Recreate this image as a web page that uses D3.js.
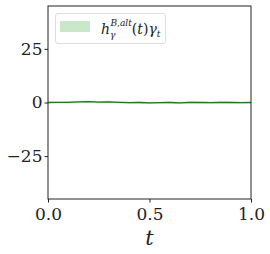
<!DOCTYPE html>
<html>
<head>
<meta charset="utf-8">
<script src="https://cdn.jsdelivr.net/npm/d3@7"></script>
<style>
body{margin:0;background:#fff;}
</style>
</head>
<body>
<svg></svg>
<script>
// values
var tValues=[0,0.05,0.1,0.15,0.2,0.25,0.3,0.35,0.4,0.45,0.5,0.55,0.6,0.65,0.7,0.75,0.8,0.85,0.9,0.95,1];
var meanValues=[0,0.1,0.05,0.3,0.4,0.2,0.3,0.1,-0.1,0,-0.2,-0.1,0,-0.2,0.1,0,-0.1,0.1,0,-0.1,0];
var bandWidth=[0.4,0.4,0.5,0.5,0.5,0.5,0.5,0.5,0.5,0.5,0.5,0.5,0.5,0.5,0.5,0.5,0.5,0.5,0.5,0.5,0.4];
var xTicks=[0,0.5,1];
var yTicks=[-25,0,25];

var width=270,height=254;
var plotLeft=48,plotRight=251,plotTop=6,plotBottom=199;
var serif="DejaVu Serif";
var svg=d3.select("svg").attr("width",width).attr("height",height);

var xscale=d3.scaleLinear().domain([0,1]).range([plotLeft,plotRight]);
var yscale=d3.scaleLinear().domain([-45,45]).range([plotBottom,plotTop]);

var data=tValues.map(function(t,i){return {t:t,m:meanValues[i],w:bandWidth[i]};});

svg.append("path")
   .datum(data)
   .attr("d",d3.area()
     .x(function(d){return xscale(d.t);})
     .y0(function(d){return yscale(d.m-d.w);})
     .y1(function(d){return yscale(d.m+d.w);}))
   .attr("fill","#2ca02c")
   .attr("fill-opacity",0.25);

svg.append("path")
   .datum(data)
   .attr("d",d3.line()
     .x(function(d){return xscale(d.t);})
     .y(function(d){return yscale(d.m);}))
   .attr("fill","none")
   .attr("stroke","#1f7a1f")
   .attr("stroke-width",1.3);

var xAxis=d3.axisBottom(xscale).tickValues(xTicks).tickFormat(d3.format(".1f")).tickSize(3.5).tickPadding(5);
var yAxis=d3.axisLeft(yscale).tickValues(yTicks).tickFormat(function(d){return d<0?"\u2212"+(-d):d;}).tickSize(3.5).tickPadding(2);

function styleAxis(g){
  g.attr("font-family",serif).attr("font-size",17);
  g.select(".domain").remove();
  g.selectAll("line").attr("stroke","#222");
  g.selectAll("text").attr("fill","#222");
}
svg.append("g")
   .attr("transform","translate(0,"+plotBottom+")")
   .call(xAxis)
   .call(styleAxis);
svg.append("g")
   .attr("transform","translate("+plotLeft+",0)")
   .call(yAxis)
   .call(styleAxis);

// frame
svg.append("rect")
   .attr("x",plotLeft).attr("y",plotTop)
   .attr("width",plotRight-plotLeft).attr("height",plotBottom-plotTop)
   .attr("fill","none").attr("stroke","#222").attr("stroke-width",1);

// x label
svg.append("text")
   .attr("x",(plotLeft+plotRight)/2).attr("y",245)
   .attr("text-anchor","middle")
   .attr("font-family",serif)
   .attr("font-style","italic")
   .attr("font-size",21)
   .attr("fill","#222")
   .text("t");

// legend
var lg=svg.append("g");
lg.append("rect")
  .attr("x",55.5).attr("y",13.5).attr("width",110).attr("height",30)
  .attr("rx",2.5)
  .attr("fill","#fff").attr("fill-opacity",0.8)
  .attr("stroke","#ddd").attr("stroke-width",1);
lg.append("rect")
  .attr("x",60).attr("y",21).attr("width",30).attr("height",11)
  .attr("fill","#2ca02c").attr("fill-opacity",0.25);
var lt=lg.append("text")
  .attr("x",101).attr("y",34)
  .attr("font-family",serif)
  .attr("font-size",14)
  .attr("fill","#222");
lt.append("tspan").attr("font-style","italic").text("h");
lt.append("tspan").attr("dy",4).attr("font-style","italic").attr("font-size",9).text("\u03b3");
lt.append("tspan").attr("dx",-5).attr("dy",-12).attr("font-size",9).attr("font-style","italic").text("B");
lt.append("tspan").attr("font-size",9).text(",");
lt.append("tspan").attr("font-size",9).attr("font-style","italic").text("alt");
lt.append("tspan").attr("dy",8).text("(");
lt.append("tspan").attr("font-style","italic").text("t");
lt.append("tspan").text(")");
lt.append("tspan").attr("font-style","italic").text("\u03b3");
lt.append("tspan").attr("dy",3).attr("font-style","italic").attr("font-size",9).text("t");
</script>
</body>
</html>
